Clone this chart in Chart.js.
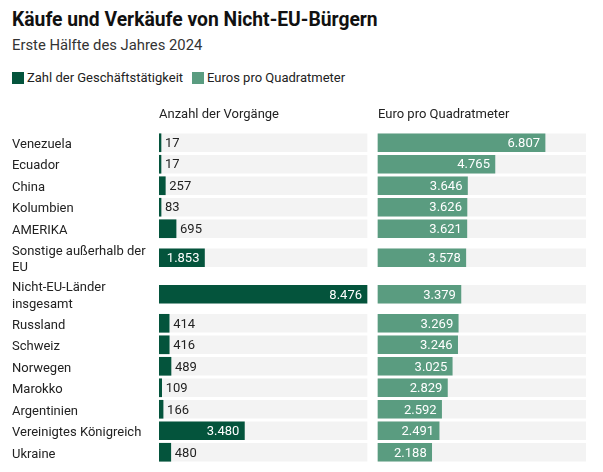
<!DOCTYPE html>
<html lang="de">
<head>
<meta charset="utf-8">
<script src="https://cdn.jsdelivr.net/npm/chart.js@4.4.1/dist/chart.umd.min.js"></script>
<style>
  html, body { margin: 0; padding: 0; background: #fff; }
  body {
    width: 603px; height: 472px; position: relative; overflow: hidden;
    font-family: Roboto, 'Liberation Sans', sans-serif; color: #222;
  }
  h1 { position: absolute; left: 12px; top: 8px; margin: 0; font-size: 19.3px; font-weight: 700; color: #111; }
  .sub { position: absolute; left: 12px; top: 36px; font-size: 14.8px; color: #333; }
  .legend { position: absolute; left: 12px; top: 70px; font-size: 13px; display: flex; align-items: center; }
  .legend span { display: inline-flex; align-items: center; margin-right: 9px; }
  .legend i { display: inline-block; width: 12px; height: 12px; margin-right: 3px; }
  .chart-box { position: absolute; left: 0; top: 100px; width: 603px; height: 372px; }
</style>
</head>
<body>
<h1>Käufe und Verkäufe von Nicht-EU-Bürgern</h1>
<div class="sub">Erste Hälfte des Jahres 2024</div>
<div class="legend" id="legend"></div>
<div class="chart-box"><canvas id="chart"></canvas></div>
<script>
const categories = [
  'Venezuela', 'Ecuador', 'China', 'Kolumbien', 'AMERIKA',
  ['Sonstige außerhalb der', 'EU'], ['Nicht-EU-Länder', 'insgesamt'],
  'Russland', 'Schweiz', 'Norwegen', 'Marokko', 'Argentinien',
  'Vereinigtes Königreich', 'Ukraine',
]
const transactions = [17, 17, 257, 83, 695, 1853, 8476, 414, 416, 489, 109, 166, 3480, 480]
const eurosPerSqm = [6807, 4765, 3646, 3626, 3621, 3578, 3379, 3269, 3246, 3025, 2829, 2592, 2491, 2188]
const seriesNames = ['Zahl der Geschäftstätigkeit', 'Euros pro Quadratmeter']
const panelTitles = ['Anzahl der Vorgänge', 'Euro pro Quadratmeter']

const DARK = '#04543c'
const LIGHT = '#5a9c80'
const TRACK = '#f3f3f3'
const FONT = "Roboto, 'Liberation Sans', sans-serif"

// two-line labels take a taller row
const rowUnits = categories.map(c => (Array.isArray(c) ? 1.7 : 1))
const rowCenters = []
let acc = 0
rowUnits.forEach(u => { rowCenters.push(acc + u / 2); acc += u })
const yMax = acc

// both panels share one value scale, placed side by side
const scaleMax = Math.max(...transactions, ...eurosPerSqm)
const gap = scaleMax * 11 / 208
const rightStart = scaleMax + gap

const fmt = v => String(v).replace(/\B(?=(\d{3})+(?!\d))/g, '.')

document.getElementById('legend').innerHTML = seriesNames
  .map((n, i) => `<span><i style="background:${i ? LIGHT : DARK}"></i>${n}</span>`)
  .join('')

const valueLabels = {
  id: 'valueLabels',
  afterDatasetsDraw(chart) {
    const { ctx } = chart
    ctx.save()
    ctx.font = `13px ${FONT}`
    ctx.textBaseline = 'middle'
    ;[transactions, eurosPerSqm].forEach((values, di) => {
      chart.getDatasetMeta(di).data.forEach((bar, i) => {
        const text = fmt(values[i])
        const w = ctx.measureText(text).width
        const len = bar.x - bar.base
        if (len > w + 10) {
          ctx.fillStyle = '#fff'
          ctx.textAlign = 'right'
          ctx.fillText(text, bar.x - 5, bar.y + 1)
        } else {
          ctx.fillStyle = '#222'
          ctx.textAlign = 'left'
          ctx.fillText(text, bar.x + 4, bar.y + 1)
        }
      })
    })
    ctx.restore()
  },
}

const panelHeaders = {
  id: 'panelHeaders',
  afterDraw(chart) {
    const { ctx, chartArea } = chart
    const x = chart.scales.x
    ctx.save()
    ctx.font = `13px ${FONT}`
    ctx.fillStyle = '#222'
    ctx.textAlign = 'left'
    ctx.textBaseline = 'middle'
    ctx.fillText(panelTitles[0], x.getPixelForValue(0), chartArea.top - 17)
    ctx.fillText(panelTitles[1], x.getPixelForValue(rightStart), chartArea.top - 17)
    ctx.restore()
  },
}

const barBase = { grouped: false, barThickness: 18, borderWidth: 0 }

new Chart(document.getElementById('chart'), {
  type: 'bar',
  data: {
    datasets: [
      {
        ...barBase,
        label: seriesNames[0],
        data: transactions.map((v, i) => ({ x: [0, v], y: rowCenters[i] })),
        backgroundColor: DARK,
        minBarLength: 2,
        order: 0,
      },
      {
        ...barBase,
        label: seriesNames[1],
        data: eurosPerSqm.map((v, i) => ({ x: [rightStart, rightStart + v], y: rowCenters[i] })),
        backgroundColor: LIGHT,
        order: 0,
      },
      {
        ...barBase,
        label: 'track left',
        data: rowCenters.map(y => ({ x: [0, scaleMax], y })),
        backgroundColor: TRACK,
        order: 1,
      },
      {
        ...barBase,
        label: 'track right',
        data: rowCenters.map(y => ({ x: [rightStart, rightStart + scaleMax], y })),
        backgroundColor: TRACK,
        order: 1,
      },
    ],
  },
  options: {
    indexAxis: 'y',
    responsive: true,
    maintainAspectRatio: false,
    animation: false,
    layout: { padding: { left: 12, right: 17, top: 32, bottom: 9 } },
    plugins: {
      legend: { display: false },
      tooltip: { enabled: false },
    },
    scales: {
      x: { type: 'linear', min: 0, max: rightStart + scaleMax, display: false },
      y: {
        type: 'linear',
        reverse: true,
        offset: false,
        min: 0,
        max: yMax,
        grid: { display: false, offset: false },
        border: { display: false },
        afterBuildTicks: s => { s.ticks = rowCenters.map(v => ({ value: v })) },
        afterFit: s => {
          s.width = 147
          s.paddingTop = 0
          s.paddingBottom = 0
        },
        ticks: {
          autoSkip: false,
          crossAlign: 'far',
          padding: 0,
          labelOffset: 2,
          color: '#222',
          font: { size: 13, family: FONT, lineHeight: 1.25 },
          callback: (v, i) => categories[i],
        },
      },
    },
  },
  plugins: [valueLabels, panelHeaders],
})
</script>
</body>
</html>
